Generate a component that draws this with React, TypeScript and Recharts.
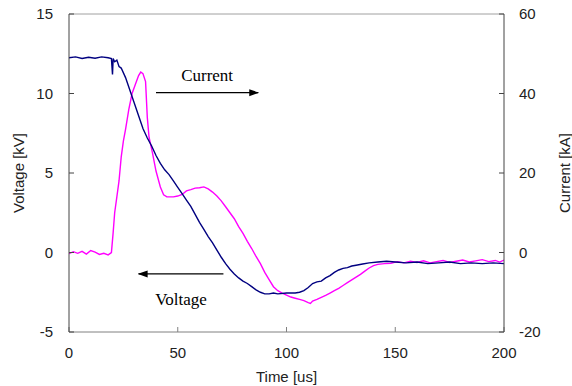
import React from "react";
import {
  ComposedChart,
  Line,
  XAxis,
  YAxis,
  ReferenceLine,
} from "recharts";

// time [us] / voltage [kV]
const voltageTime = [
  0, 3, 6, 9, 12, 15, 18, 19.5, 20, 20.3, 21, 22, 23, 24, 26, 28, 30, 32, 34, 36,
  38, 40, 42, 44, 46, 48, 50, 52, 54, 56, 58, 60, 62, 64, 66, 68, 70, 72, 74, 76,
  78, 80, 82, 84, 86, 88, 90, 92, 94, 96, 100, 104, 106, 108, 110, 112, 114, 116,
  118, 120, 122, 124, 126, 128, 130, 132, 135, 138, 142, 146, 150, 155, 160, 165,
  170, 175, 180, 185, 190, 195, 200,
];
const voltageKV = [
  12.25, 12.3, 12.2, 12.28, 12.22, 12.3, 12.25, 12.2, 11.2, 12.2, 12.0, 12.1, 11.7,
  11.6, 11.0, 10.2, 9.4, 8.6, 7.8, 7.2, 6.7, 6.1, 5.6, 5.2, 4.9, 4.5, 4.1, 3.7, 3.3,
  2.9, 2.4, 1.9, 1.45, 1.0, 0.6, 0.15, -0.3, -0.7, -1.05, -1.35, -1.6, -1.8, -1.95,
  -2.15, -2.35, -2.5, -2.6, -2.6, -2.55, -2.6, -2.55, -2.55, -2.5, -2.4, -2.2, -1.95,
  -1.85, -1.8, -1.6, -1.45, -1.25, -1.1, -1.0, -0.95, -0.85, -0.8, -0.72, -0.65,
  -0.6, -0.55, -0.6, -0.65, -0.6, -0.7, -0.65, -0.6, -0.7, -0.65, -0.7, -0.65, -0.7,
];

// time [us] / current [kA]
const currentTime = [
  0, 2, 4, 6, 8, 10, 12, 14, 16, 18, 19.5, 20.3, 21, 22, 23, 24, 25, 26, 27.5, 29,
  30.7, 32, 33, 34, 35.2, 36, 36.8, 38.4, 40, 42, 43.5, 45, 48, 50, 52, 54, 56, 58,
  60, 62, 64, 66, 68, 70, 72, 74, 76, 78, 80, 82, 84, 86, 88, 90, 92, 94, 96, 98,
  100, 102, 104, 106, 108, 110, 111, 112, 114, 116, 118, 120, 122, 124, 126, 128,
  130, 132, 134, 136, 138, 140, 142, 145, 148, 151, 154, 157, 160, 163, 166, 169,
  172, 175, 178, 181, 184, 187, 190, 193, 196, 198, 200,
];
const currentKA = [
  -0.3, 0.2, -0.2, 0.3, -0.4, 0.5, 0.1, -0.5, -0.2, -0.6, 0, 5, 10, 14, 18, 24, 28,
  31, 36, 40, 42.6, 44.5, 45.4, 45, 43, 34, 29, 25, 20.5, 16.5, 14.5, 14, 14, 14.2,
  14.6, 15.5, 15.8, 16.2, 16.3, 16.5, 16, 15.2, 14.2, 13, 11.5, 10, 8.5, 6.5, 4.8,
  2.8, 1, -1, -2.8, -5, -6.8, -8.6, -9.6, -10.2, -10.7, -11.2, -11.5, -11.8, -12.1,
  -12.6, -12.8, -12.2, -11.8, -11.3, -10.8, -10.2, -9.6, -9, -8.3, -7.6, -6.9,
  -6.2, -5.5, -4.7, -3.9, -3.3, -3.0, -2.8, -2.7, -2.3, -2.6, -2.2, -2.5, -2.1,
  -2.6, -2.3, -2.0, -2.5, -2.2, -1.9, -2.4, -2.1, -1.8, -2.3, -2.0, -2.4, -1.9,
];

const timeTicks = [0, 50, 100, 150, 200];
const voltageTicks = [-5, 0, 5, 10, 15];
const currentTicks = [-20, 0, 20, 40, 60];

// annotation arrows in data units (time, kV)
const arrows = [
  { text: "Current", from: [40, 10.05], to: [87, 10.05], pos: "top", offset: 12 },
  { text: "Voltage", from: [71, -1.35], to: [32, -1.35], pos: "bottom", offset: 19 },
];

const voltageData = voltageTime.map((t, i) => ({ t, v: voltageKV[i] }));
const currentData = currentTime.map((t, i) => ({ t, c: currentKA[i] }));

const sans = "Liberation Sans, Arial, sans-serif";
const tickFont = { fill: "#222", fontSize: 15, fontFamily: sans };

function SideTitle({ viewBox, text, x }: any) {
  const cy = viewBox.y + viewBox.height / 2;
  return (
    <text
      x={x}
      y={cy}
      transform={`rotate(-90, ${x}, ${cy})`}
      textAnchor="middle"
      dominantBaseline="central"
      fill="#222"
      fontSize={15}
      fontFamily={sans}
    >
      {text}
    </text>
  );
}

export default function App() {
  return (
    <div style={{ position: "absolute", left: 0, top: 0, background: "#fff" }}>
      <ComposedChart width={572} height={386} margin={{ top: 14, right: 0, bottom: 0, left: 0 }}>
        <defs>
          <marker
            id="arrowHead"
            markerWidth={10}
            markerHeight={8}
            refX={9}
            refY={4}
            orient="auto"
            markerUnits="userSpaceOnUse"
          >
            <path d="M0,0.5 L10,4 L0,7.5 Z" fill="#000" />
          </marker>
        </defs>
        <XAxis
          dataKey="t"
          type="number"
          domain={[0, 200]}
          ticks={timeTicks}
          allowDataOverflow
          height={54}
          stroke="#808080"
          tickSize={-5}
          tickMargin={20}
          tick={tickFont}
          label={{
            content: ({ viewBox }: any) => (
              <text
                x={viewBox.x + viewBox.width / 2}
                y={376}
                textAnchor="middle"
                dominantBaseline="central"
                fill="#222"
                fontSize={15}
                fontFamily={sans}
              >
                Time [us]
              </text>
            ),
          }}
        />
        <YAxis
          yAxisId="v"
          orientation="left"
          width={69}
          domain={[-5, 15]}
          ticks={voltageTicks}
          allowDataOverflow
          stroke="#444"
          tickSize={-5}
          tickMargin={21}
          tick={tickFont}
          label={{ content: (p: any) => <SideTitle {...p} text="Voltage [kV]" x={18} /> }}
        />
        <YAxis
          yAxisId="c"
          orientation="right"
          width={68}
          domain={[-20, 60]}
          ticks={currentTicks}
          allowDataOverflow
          stroke="#444"
          tickSize={-5}
          tickMargin={20}
          tick={tickFont}
          label={{ content: (p: any) => <SideTitle {...p} text="Current [kA]" x={564} /> }}
        />
        <ReferenceLine yAxisId="v" y={15} stroke="#a0a0a0" />
        <Line
          yAxisId="c"
          data={currentData}
          dataKey="c"
          type="linear"
          stroke="#ff00ff"
          strokeWidth={1.4}
          dot={false}
          isAnimationActive={false}
        />
        <Line
          yAxisId="v"
          data={voltageData}
          dataKey="v"
          type="linear"
          stroke="#000080"
          strokeWidth={1.4}
          dot={false}
          isAnimationActive={false}
        />
        {arrows.map((a) => (
          <ReferenceLine
            key={a.text}
            yAxisId="v"
            segment={[
              { x: a.from[0], y: a.from[1] },
              { x: a.to[0], y: a.to[1] },
            ]}
            stroke="#000"
            strokeWidth={1}
            shape={(p: any) => (
              <line x1={p.x1} y1={p.y1} x2={p.x2} y2={p.y2} stroke="#000" strokeWidth={1.2} markerEnd="url(#arrowHead)" />
            )}
            label={{
              value: a.text,
              position: a.pos as any,
              offset: a.offset,
              fill: "#000",
              fontSize: 17,
              fontFamily: "Liberation Serif, Times New Roman, serif",
            }}
          />
        ))}
      </ComposedChart>
    </div>
  );
}
